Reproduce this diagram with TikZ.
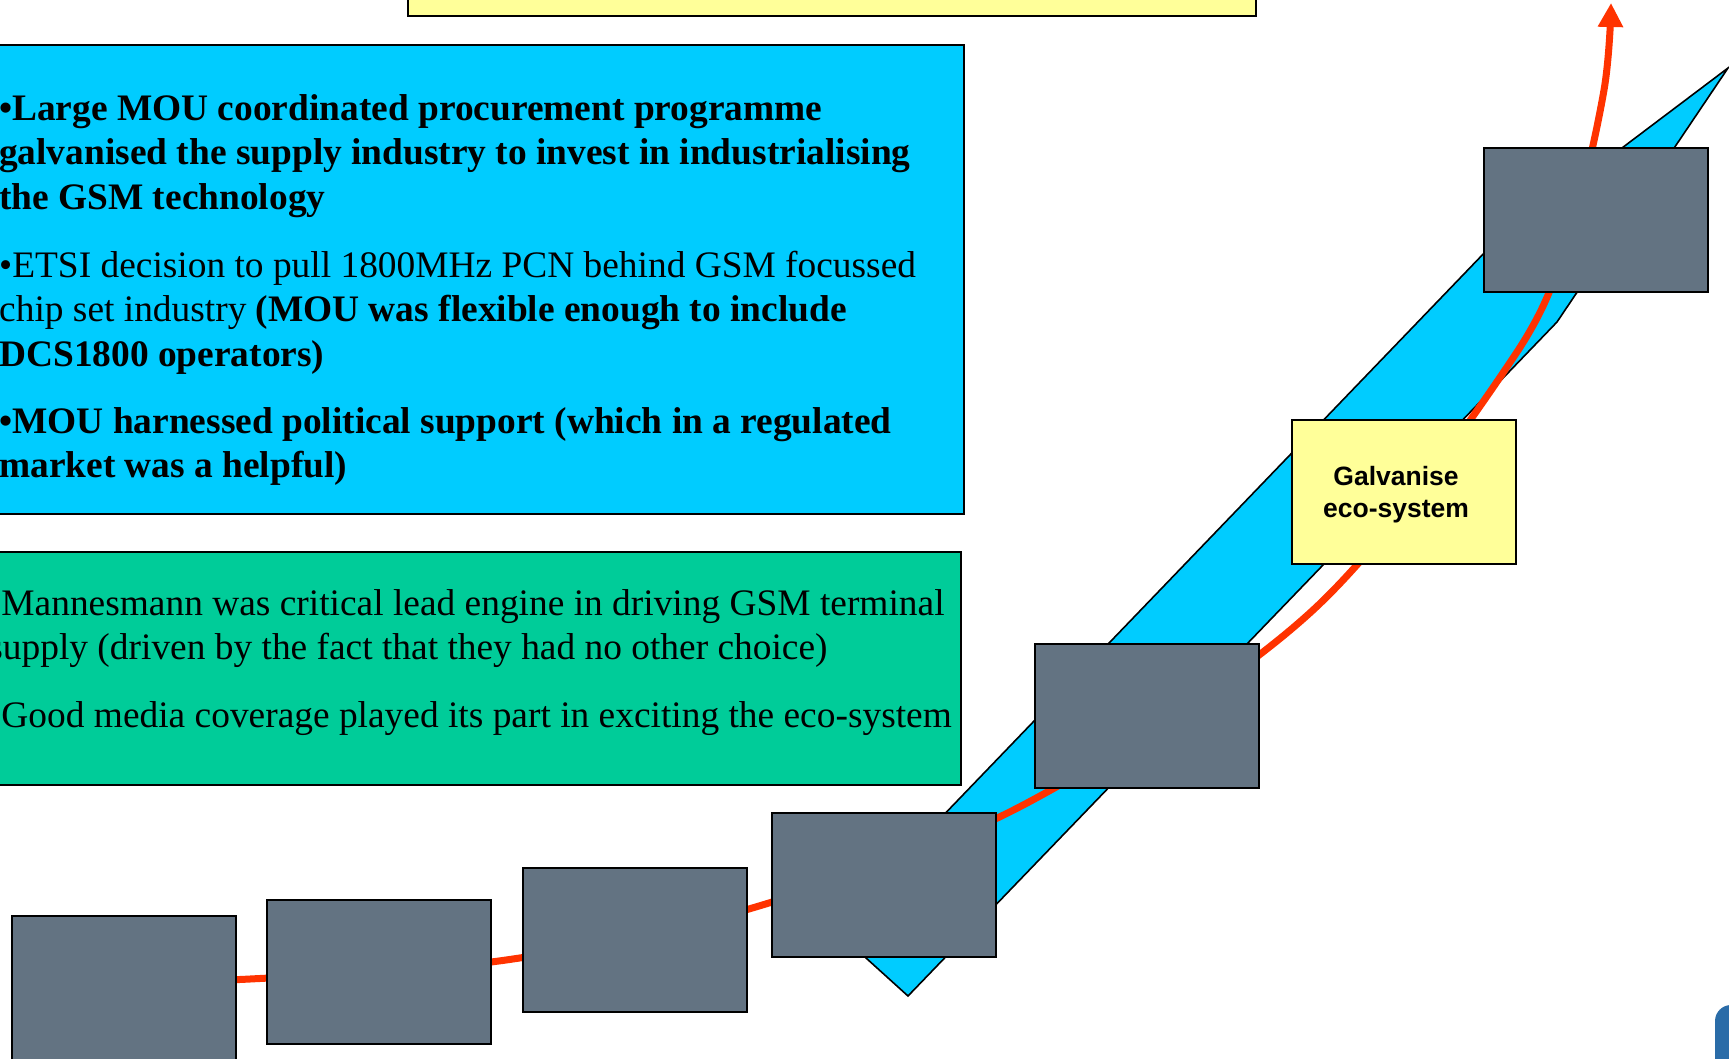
\documentclass[tikz,border=0pt]{standalone}
\usepackage{fontspec}
\setmainfont{Liberation Serif}
\newfontfamily\galfont{Liberation Sans}
\usetikzlibrary{arrows.meta}
\definecolor{boxblue}{RGB}{0,204,255}
\definecolor{boxgreen}{RGB}{0,204,153}
\definecolor{slate}{RGB}{99,115,130}
\definecolor{paleyellow}{RGB}{255,255,153}
\definecolor{curvered}{RGB}{255,51,0}
\definecolor{cornerblue}{RGB}{42,108,168}
\tikzset{
  panel/.style={draw=black, line width=2pt, inner sep=0pt, anchor=north west},
  graybox/.style={draw=black, line width=2pt, fill=slate, minimum width=224pt, minimum height=144pt, inner sep=0pt, anchor=north west},
  yellowbox/.style={draw=black, line width=2pt, fill=paleyellow, inner sep=0pt, anchor=north west},
  txt/.style={anchor=base west, inner sep=0pt, font=\fontsize{37.4}{44.5}\selectfont},
  galtxt/.style={font=\galfont\bfseries\fontsize{26.5}{32}\selectfont, align=center},
  band/.style={draw=black, line width=1.6pt, fill=boxblue, line join=miter},
  growth/.style={draw=curvered, line width=7pt, -{Triangle[width=24pt,length=24pt]}}
}
\begin{document}
\begin{tikzpicture}[x=1pt,y=-1pt]
\useasboundingbox (0,0) rectangle (1729,1058);
\clip (0,0) rectangle (1729,1058);
\fill[white] (0,0) rectangle (1729,1058);

% top yellow box
\node[yellowbox, minimum width=848pt, minimum height=45pt] (topbox) at (407,-30) {};

% blue panel
\node[panel, fill=boxblue, minimum width=973pt, minimum height=469pt] (bluepanel) at (-10,44) {};
\node[txt] (b1) at (-1,120) {\bfseries •Large MOU coordinated procurement programme};
\node[txt] (b2) at (-1,164.5) {\bfseries galvanised the supply industry to invest in industrialising};
\node[txt] (b3) at (-1,209) {\bfseries the GSM technology};
\node[txt] (b4) at (-1,277) {•ETSI decision to pull 1800MHz PCN behind GSM focussed};
\node[txt] (b5) at (-1,321.5) {chip set industry \textbf{(MOU was flexible enough to include}};
\node[txt] (b6) at (-1,366) {\bfseries DCS1800 operators)};
\node[txt] (b7) at (-1,433) {\bfseries •MOU harnessed political support (which in a regulated};
\node[txt] (b8) at (-1,477.5) {\bfseries market was a helpful)};

% green panel
\node[panel, fill=boxgreen, minimum width=970pt, minimum height=233pt] (greenpanel) at (-10,551) {};
\node[txt] (g1t) at (-11.8,615) {•Mannesmann was critical lead engine in driving GSM terminal};
\node[txt] (g2t) at (-11.8,659.5) {supply (driven by the fact that they had no other choice)};
\node[txt] (g3t) at (-11.8,727) {•Good media coverage played its part in exciting the eco-system};

% blue band arrow
\draw[band] (834,929) -- (1488,249) -- (1728,68) -- (1557,322) -- (908,996) -- cycle;

% red growth curve
\coordinate (cstart) at (150,979);
\coordinate (cend) at (1611,3);
\draw[growth] plot[smooth, tension=0.55] coordinates {(cstart) (250,979) (506,960) (759,906) (1027,803) (1312,611) (1515,355) (1573,220) (1604,90) (cend)};

% gray boxes
\node[graybox] (s1) at (11,915) {};
\node[graybox] (s2) at (266,899) {};
\node[graybox] (s3) at (522,867) {};
\node[graybox] (s4) at (771,812) {};
\node[graybox] (s5) at (1034,643) {};
\node[graybox] (s6) at (1483,147) {};

% galvanise box
\node[yellowbox, minimum width=224pt, minimum height=144pt] (gal) at (1291,419) {};
\node[galtxt] (galtext) at (1396,494.5) {Galvanise\\eco-system};

% corner element
\fill[cornerblue, rounded corners=16pt] (1715,1005) rectangle (1790,1120);
\end{tikzpicture}
\end{document}
